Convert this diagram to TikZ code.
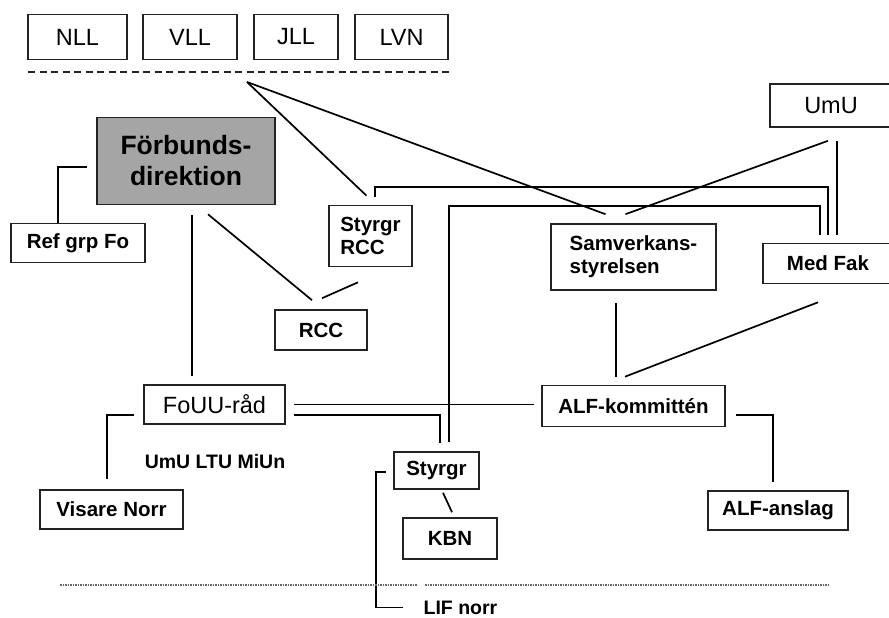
\documentclass[tikz,border=0pt]{standalone}
\usepackage{fontspec}
\setmainfont{Liberation Sans}
\usetikzlibrary{calc}
\usepackage{xcolor}
\definecolor{dirgray}{RGB}{165, 165, 165}
\definecolor{inkgray}{RGB}{35, 35, 35}

\begin{document}
\begin{tikzpicture}[x=1pt, y=-1pt, line width=1.3pt,
    box/.style={draw=inkgray, line width=1.6pt, rectangle, inner sep=0pt, align=center,
                font=\fontsize{23.5}{25}\selectfont},
    boxb/.style={box, font=\fontsize{20.5}{23}\selectfont\bfseries},
    link/.style={draw=black, line width=1.7pt},
    sepline/.style={draw=inkgray, line width=2.4pt, dash pattern=on 7pt off 4.5pt},
    dotline/.style={draw=black!60, line width=1.2pt, dash pattern=on 1.5pt off 1pt}]

    \useasboundingbox (0,0) rectangle (889,618);

    % ==========================================================
    % landstingen och skiljelinjen
    % ==========================================================
    \foreach \n/\t/\x/\w in {nll/NLL/77.5/99, vll/VLL/190/94,
                             jll/JLL/296/84, lvn/LVN/401.5/93} {
        \node[box, minimum width=\w pt, minimum height=45pt] (\n) at (\x,37) {\t};
    }
    \coordinate (sepL) at (28,72);
    \coordinate (sepR) at (450,72);
    \draw[sepline] (sepL) -- (sepR);
    \coordinate (hub) at (247,82);

    % ==========================================================
    % rutorna
    % ==========================================================
    \node[box, fill=dirgray, minimum width=178pt, minimum height=87pt,
          font=\fontsize{26.5}{31}\selectfont\bfseries] (forb) at (186,161) {Förbunds-\\direktion};
    \node[boxb, minimum width=134pt, minimum height=39pt] (ref) at (78,243) {Ref grp Fo};
    \node[boxb, align=left, minimum width=83pt, minimum height=61pt] (srcc) at (370.5,236) {Styrgr\\RCC};
    \node[boxb, minimum width=92pt, minimum height=40pt] (rcc) at (321,330) {RCC};
    \node[boxb, align=left, minimum width=165pt, minimum height=66pt] (samv) at (633.5,257) {Samverkans-\\styrelsen};
    \node[box, minimum width=122pt, minimum height=43pt] (umu) at (831,105.5) {UmU};
    \node[boxb, minimum width=130pt, minimum height=40pt] (medfak) at (828,263.5) {Med Fak};
    \node[box, minimum width=141pt, minimum height=39pt] (fouu) at (214.5,404.5) {FoUU-råd};
    \node[boxb, minimum width=183pt, minimum height=41pt] (alfk) at (633.5,406) {ALF-kommittén};
    \node[boxb, minimum width=140pt, minimum height=39pt] (alfa) at (778,510.5) {ALF-anslag};
    \node[boxb, minimum width=85pt, minimum height=37pt] (styr) at (436.5,470.5) {Styrgr};
    \node[boxb, minimum width=94pt, minimum height=41pt] (kbn) at (450,538.5) {KBN};
    \node[boxb, minimum width=143pt, minimum height=39pt] (visare) at (111.5,509.5) {Visare Norr};

    \node[inner sep=0pt, anchor=base, font=\fontsize{19.5}{21}\selectfont\bfseries] (orter) at (215,468) {UmU LTU MiUn};
    \node[inner sep=0pt, anchor=base west, font=\fontsize{19.5}{21}\selectfont\bfseries] (lif) at (423,614) {LIF norr};

    % ==========================================================
    % linjerna
    % ==========================================================
    \draw[link] (hub) -- ($(srcc.north)+(-4,-9)$);
    \draw[link] (hub) -- ($(samv.north)+(-28,-9)$);
    \draw[link] ($(umu.south)+(-3,13)$) -- ($(samv.north)+(-8,-9)$);
    \draw[link] ($(umu.south)+(6,13)$) -- ($(medfak.north)+(9,-8)$);
    \draw[link] ($(srcc.north)+(4.5,-8)$) -- ++(0,-10) -| ($(medfak.north)+(0,-8)$);
    \draw[link, line width=2.3pt] ($(styr.north)+(12.5,-9)$) -- ++(0,-236) -| ($(medfak.north)+(-8,-8)$);

    % direktionen
    \draw[link] ($(ref.north)+(-20,0)$) |- ($(forb.west)+(-9,6)$);
    \draw[link] ($(forb.south)+(6,10)$) -- ($(fouu.north)+(-22.5,-8)$);
    \draw[link] ($(forb.south)+(22,9)$) -- ($(rcc.north)+(-9,-9)$);
    \draw[link] ($(srcc.south)+(-12.5,15)$) -- ($(rcc.north)+(1,-11)$);

    % samverkan och ALF
    \draw[link] ($(samv.south)+(-17.5,12)$) -- ($(alfk.north)+(-17.5,-8)$);
    \draw[link] ($(medfak.south)+(-10,18)$) -- ($(alfk.north)+(-8.5,-8)$);
    \draw[link] ($(alfk.east)+(10,9)$) -| ($(alfa.north)+(-5,-8)$);

    % FoUU
    \draw[link] ($(fouu.east)+(8,0)$) -- ($(alfk.west)+(-7,-1.5)$);
    \draw[link] ($(fouu.east)+(8,10.5)$) -| ($(styr.north)+(3.5,-8)$);
    \draw[link] ($(visare.north)+(-4.5,-10)$) |- ($(fouu.west)+(-9,10.5)$);
    \draw[link] ($(styr.south)+(6.5,3)$) -- ($(kbn.north)+(2,-5)$);
    \draw[link] ($(styr.west)+(-7,1.5)$) -- ++(-10,0) |- ($(lif.west)+(-20,0)$);

    % prickad linje nederst
    \coordinate (dotL) at (60,585);
    \coordinate (dotA) at (417,585);
    \coordinate (dotB) at (425,585);
    \coordinate (dotR) at (830,585);
    \draw[dotline] (dotL) -- (dotA);
    \draw[dotline] (dotB) -- (dotR);

\end{tikzpicture}
\end{document}
